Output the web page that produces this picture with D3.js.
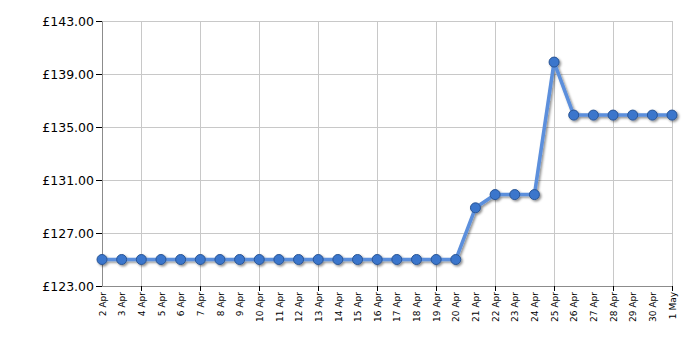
<!DOCTYPE html>
<html>
<head>
<meta charset="utf-8">
<script src="https://cdn.jsdelivr.net/npm/d3@7"></script>
<style>
  body { margin: 0; background: #fff; }
  svg text { font-family: "DejaVu Sans", Verdana, sans-serif; fill: #000; }
</style>
</head>
<body>
<svg id="chart" width="700" height="350"></svg>
<script>
// price history, one point per day
var dates = ["2 Apr", "3 Apr", "4 Apr", "5 Apr", "6 Apr", "7 Apr", "8 Apr", "9 Apr", "10 Apr",
  "11 Apr", "12 Apr", "13 Apr", "14 Apr", "15 Apr", "16 Apr", "17 Apr", "18 Apr", "19 Apr",
  "20 Apr", "21 Apr", "22 Apr", "23 Apr", "24 Apr", "25 Apr", "26 Apr", "27 Apr", "28 Apr",
  "29 Apr", "30 Apr", "1 May"];
var prices = [125, 125, 125, 125, 125, 125, 125, 125, 125, 125, 125, 125, 125, 125, 125, 125,
  125, 125, 125, 128.9, 129.9, 129.9, 129.9, 139.9, 135.9, 135.9, 135.9, 135.9, 135.9, 135.9];
var yTicks = [123, 127, 131, 135, 139, 143];
var gridDates = ["4 Apr", "7 Apr", "10 Apr", "13 Apr", "16 Apr", "19 Apr", "22 Apr", "25 Apr", "28 Apr", "1 May"];

var margin = { top: 21, right: 28, bottom: 64, left: 102 };
var width = 700 - margin.left - margin.right;
var height = 350 - margin.top - margin.bottom;

var svg = d3.select("#chart");
var defs = svg.append("defs");
var f = defs.append("filter").attr("id", "shadow")
  .attr("x", "-20%").attr("y", "-20%").attr("width", "140%").attr("height", "140%");
f.append("feDropShadow").attr("dx", 1.5).attr("dy", 1.5).attr("stdDeviation", 1)
  .attr("flood-color", "#000").attr("flood-opacity", 0.45);

var g = svg.append("g").attr("transform", "translate(" + margin.left + "," + margin.top + ")");

var x = d3.scalePoint().domain(dates).range([0, width]);
var y = d3.scaleLinear().domain([123, 143]).range([height, 0]);

// grid
g.append("g").selectAll("line").data(yTicks).enter().append("line")
  .attr("x1", 0).attr("x2", width)
  .attr("y1", function (d) { return y(d) + 0.5; }).attr("y2", function (d) { return y(d) + 0.5; })
  .attr("stroke", "#c8c8c8");
g.append("g").selectAll("line").data(gridDates).enter().append("line")
  .attr("x1", function (d) { return Math.round(x(d)) + 0.5; }).attr("x2", function (d) { return Math.round(x(d)) + 0.5; })
  .attr("y1", 0).attr("y2", height)
  .attr("stroke", "#c8c8c8");

// y axis
var yAxis = g.append("g")
  .call(d3.axisLeft(y).tickValues(yTicks).tickSize(6).tickSizeOuter(0)
    .tickFormat(function (d) { return "£" + d3.format(".2f")(d); }));
yAxis.select(".domain").attr("stroke", "#8c8c8c");
yAxis.selectAll(".tick line").attr("stroke", "#000");
yAxis.selectAll("text").style("font-size", "12.5px").attr("x", -8);

// x axis
var xAxis = g.append("g").attr("transform", "translate(0," + height + ")")
  .call(d3.axisBottom(x).tickSize(0).tickSizeOuter(0));
xAxis.select(".domain").attr("stroke", "#8c8c8c");
xAxis.selectAll(".tick text")
  .style("font-size", "9px")
  .attr("text-anchor", "end")
  .attr("transform", "rotate(-90)")
  .attr("x", -6).attr("y", 0).attr("dy", "0.35em");
xAxis.append("g").selectAll("line").data(gridDates).enter().append("line")
  .attr("x1", function (d) { return Math.round(x(d)) + 0.5; }).attr("x2", function (d) { return Math.round(x(d)) + 0.5; })
  .attr("y1", 0).attr("y2", 5).attr("stroke", "#000");

// series
var line = d3.line()
  .x(function (d, i) { return x(dates[i]); })
  .y(function (d) { return y(d); });

var series = g.append("g").attr("filter", "url(#shadow)");
series.append("path").datum(prices)
  .attr("d", line)
  .attr("fill", "none")
  .attr("stroke", "#5b8fdc")
  .attr("stroke-width", 3.5)
  .attr("stroke-linejoin", "round");

series.selectAll("circle").data(prices).enter().append("circle")
  .attr("cx", function (d, i) { return x(dates[i]); })
  .attr("cy", function (d) { return y(d); })
  .attr("r", 5)
  .attr("fill", "#3a76cc")
  .attr("stroke", "#2a5595")
  .attr("stroke-width", 1);
</script>
</body>
</html>
